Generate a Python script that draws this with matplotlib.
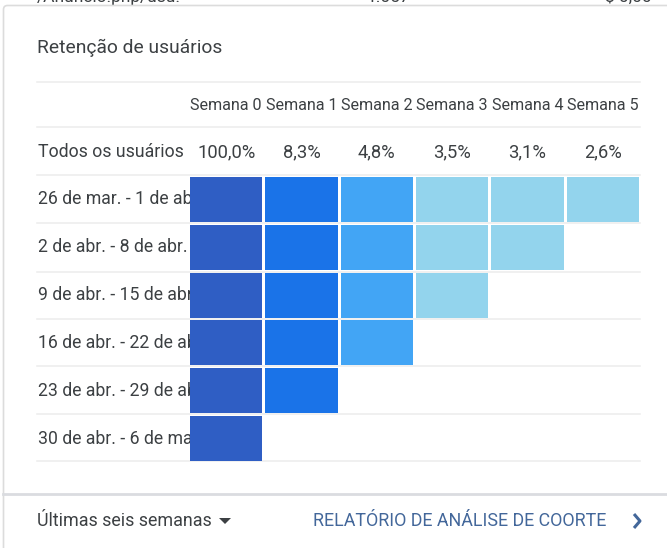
import matplotlib.pyplot as plt
from matplotlib.patches import FancyBboxPatch
import numpy as np

plt.rcParams['font.family'] = ['Roboto', 'DejaVu Sans']

# cohort data
semanas = ["Semana 0", "Semana 1", "Semana 2", "Semana 3", "Semana 4", "Semana 5"]
todos = ["100,0%", "8,3%", "4,8%", "3,5%", "3,1%", "2,6%"]
coortes = ["26 de mar. - 1 de abr.", "2 de abr. - 8 de abr.", "9 de abr. - 15 de abr.",
           "16 de abr. - 22 de abr.", "23 de abr. - 29 de abr.", "30 de abr. - 6 de mai."]
ret_0 = [100.0, 8.1, 4.6, 3.5, 3.1, 2.6]
ret_1 = [100.0, 8.4, 4.9, 3.4, 3.1]
ret_2 = [100.0, 8.2, 4.7, 3.6]
ret_3 = [100.0, 8.5, 5.0]
ret_4 = [100.0, 8.3]
ret_5 = [100.0]
retencao = [ret_0, ret_1, ret_2, ret_3, ret_4, ret_5]

limites = [4.0, 6.0, 50.0]
cores = ["#93d4ed", "#42a5f5", "#1a73e8", "#2f5ec4"]

W, H = 667, 548
fig = plt.figure(figsize=(W / 100, H / 100), dpi=100)
ax = fig.add_axes([0, 0, 1, 1])
ax.set_xlim(0, W)
ax.set_ylim(H, 0)
ax.axis('off')

txt = "#3c4043"

# card outline
card = FancyBboxPatch((3.5, 5.5), 720, 600, boxstyle="round,pad=0,rounding_size=4",
                      fc="white", ec="#dcdcdc", lw=1.2, zorder=0)
ax.add_patch(card)

# cut-off row of the card above
ax.text(37, 2, "/Anúncio.php/usu.", fontsize=12.5, color=txt, va='baseline', zorder=-1)
ax.text(410, 2, "1.057", fontsize=12.5, color=txt, va='baseline', ha='right', zorder=-1)
ax.text(652, 2, "$ 0,00", fontsize=12.5, color=txt, va='baseline', ha='right', zorder=-1)

ax.text(37, 48, "Retenção de usuários", fontsize=13.9, color=txt, va='center')

col_x0 = 190
col_pitch = 75.3
cell_w = 72.3
row_y0 = 177
row_pitch = 47.8
cell_h = 45

# separators
for y in [82, 127, 175, 223, 272, 319, 366, 414, 461]:
    ax.plot([37, 640], [y, y], color="#eeeeee", lw=1.2, zorder=1)

for j, s in enumerate(semanas):
    cx = col_x0 + j * col_pitch + cell_w / 2
    ax.text(cx, 106, s, fontsize=11.6, color=txt, ha='center', va='center')
    ax.text(cx, 152, todos[j], fontsize=13.2, color=txt, ha='center', va='center')

ax.text(38, 152, "Todos os usuários", fontsize=12.8, color=txt, va='center')

for i, (rotulo, linha) in enumerate(zip(coortes, retencao)):
    y = row_y0 + i * row_pitch
    ax.text(38, y + cell_h / 2, rotulo, fontsize=12.7, color=txt, va='center', zorder=2)
    xs = col_x0 + np.arange(len(linha)) * col_pitch
    cs = [cores[np.searchsorted(limites, v)] for v in linha]
    ax.bar(xs, cell_h, width=cell_w, bottom=y, align='edge', color=cs, zorder=3)

# footer
ax.plot([3, W], [494, 494], color="#dadce0", lw=2, zorder=1)
ax.text(37, 521, "Últimas seis semanas", fontsize=12.9, color=txt, va='center')
ax.fill([219, 231, 225], [518, 518, 524], color="#3c4043", lw=0)
ax.text(313, 521, "RELATÓRIO DE ANÁLISE DE COORTE", fontsize=12.9, color="#43679a", va='center')
ax.plot([634, 640, 634], [514, 521, 528], color="#43679a", lw=2.2, solid_capstyle='butt')

fig.savefig("out.png", dpi=100)
